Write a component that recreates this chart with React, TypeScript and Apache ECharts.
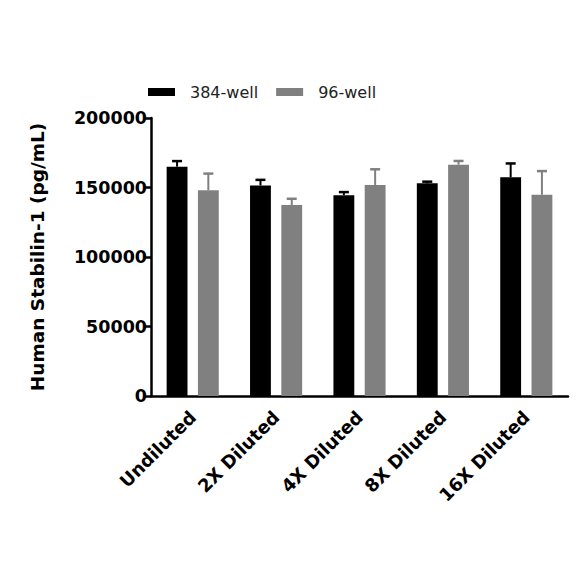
import React, { useEffect, useRef } from "react";
import * as echarts from "echarts";

const categories = ["Undiluted", "2X Diluted", "4X Diluted", "8X Diluted", "16X Diluted"];
const seriesNames = ["384-well", "96-well"];
const well384 = [165000, 151500, 144500, 153000, 157300];
const well384Err = [4000, 4000, 2200, 1200, 10000];
const well96 = [148000, 137400, 151800, 166400, 144800];
const well96Err = [12000, 4500, 11300, 2700, 17000];
const yTicks = [0, 50000, 100000, 150000, 200000];
const colors = ["#000000", "#808080"];

const BAR_FRAC = 0.25;
const GAP_FRAC = 0.5;

function errorSeries(name: string, values: number[], errs: number[], color: string, sign: number) {
  return {
    type: "custom",
    name: name + "-err",
    z: 5,
    silent: true,
    encode: { x: 0, y: 1 },
    data: values.map((v, i) => [i, v, errs[i]]),
    renderItem: (params: any, api: any) => {
      const i = api.value(0);
      const v = api.value(1);
      const e = api.value(2);
      const base = api.coord([i, v]);
      const top = api.coord([i, v + e]);
      const bw = api.size([1, 0])[0];
      const off = sign * bw * BAR_FRAC * (1 + GAP_FRAC) / 2;
      const x = base[0] + off;
      const capHalf = 5;
      return {
        type: "group",
        children: [
          {
            type: "line",
            shape: { x1: x, y1: base[1], x2: x, y2: top[1] },
            style: { stroke: color, lineWidth: 2 },
          },
          {
            type: "line",
            shape: { x1: x - capHalf, y1: top[1], x2: x + capHalf, y2: top[1] },
            style: { stroke: color, lineWidth: 2.5 },
          },
        ],
      };
    },
  };
}

export default function App() {
  const ref = useRef<HTMLDivElement>(null);
  useEffect(() => {
    if (!ref.current) return;
    const chart = echarts.init(ref.current, undefined, { renderer: "svg" });
    const boldFont = "DejaVu Sans";
    chart.setOption({
      animation: false,
      backgroundColor: "#ffffff",
      legend: {
        data: seriesNames,
        left: 143,
        top: 79,
        itemWidth: 27,
        itemHeight: 8,
        itemGap: 18,
        icon: "rect",
        textStyle: {
          fontFamily: "DejaVu Sans",
          fontSize: 16,
          color: "#222",
          padding: [0, 0, 0, 10],
        },
      },
      grid: { left: 151, right: 16, top: 118, bottom: 188, containLabel: false },
      xAxis: {
        type: "category",
        data: categories,
        axisLine: { lineStyle: { color: "#000", width: 2.5 } },
        axisTick: { alignWithLabel: true, length: 7, lineStyle: { width: 2.5, color: "#000" } },
        axisLabel: {
          rotate: 45,
          margin: 18,
          fontFamily: boldFont,
          fontWeight: "bold",
          fontSize: 18,
          color: "#000",
          interval: 0,
        },
      },
      yAxis: {
        type: "value",
        min: yTicks[0],
        max: yTicks[yTicks.length - 1],
        interval: 50000,
        name: "Human Stabilin-1 (pg/mL)",
        nameLocation: "middle",
        nameGap: 104,
        nameTextStyle: {
          fontFamily: boldFont,
          fontWeight: "bold",
          fontSize: 18.5,
          color: "#000",
        },
        axisLine: { show: true, lineStyle: { color: "#000", width: 2.5 } },
        axisTick: { show: true, length: 7, lineStyle: { width: 2.5, color: "#000" } },
        splitLine: { show: false },
        axisLabel: {
          margin: 4,
          fontFamily: boldFont,
          fontWeight: "bold",
          fontSize: 17.5,
          color: "#000",
          formatter: (v: number) => String(v),
        },
      },
      series: [
        {
          type: "bar",
          name: seriesNames[0],
          data: well384,
          barWidth: BAR_FRAC * 100 + "%",
          barGap: GAP_FRAC * 100 + "%",
          itemStyle: { color: colors[0] },
        },
        {
          type: "bar",
          name: seriesNames[1],
          data: well96,
          barWidth: BAR_FRAC * 100 + "%",
          barGap: GAP_FRAC * 100 + "%",
          itemStyle: { color: colors[1] },
        },
        errorSeries(seriesNames[0], well384, well384Err, colors[0], -1),
        errorSeries(seriesNames[1], well96, well96Err, colors[1], 1),
      ],
    });
    return () => chart.dispose();
  }, []);
  return (
    <div
      ref={ref}
      style={{ position: "fixed", left: 0, top: 0, width: 584, height: 584, background: "#fff" }}
    />
  );
}
